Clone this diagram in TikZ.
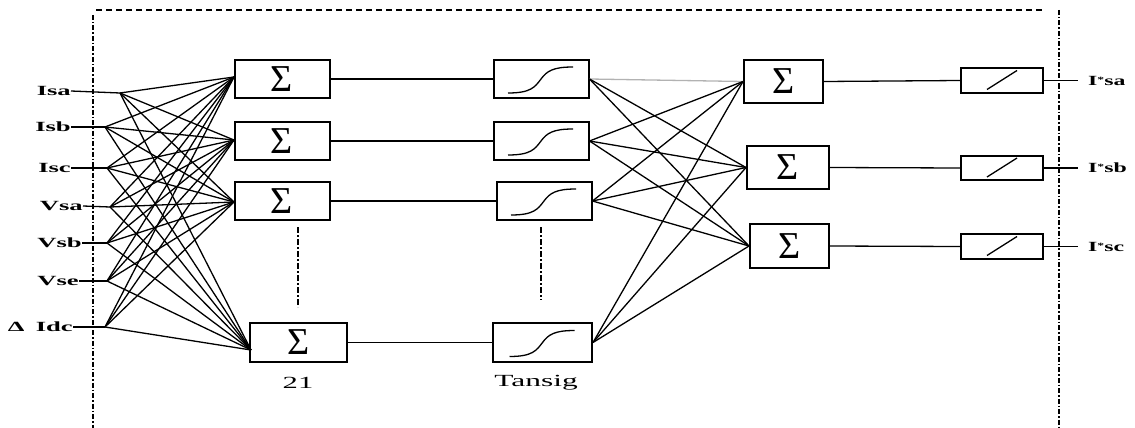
\documentclass[tikz,border=0pt]{standalone}
\usepackage{fontspec}
\usepackage{graphicx}
\setmainfont{Liberation Serif}
\usetikzlibrary{calc}
\newcommand\wide[2][1.9]{\scalebox{#1}[1]{#2}}
\newcommand\sig{Σ\hspace{16pt}}
\begin{document}
\begin{tikzpicture}[x=1pt,y=-1pt,
  blk/.style={draw,line width=2pt,minimum width=95pt,minimum height=38pt,inner sep=0pt},
  sig/.style={blk,font=\fontsize{38}{38}\selectfont},
  lin/.style={draw,line width=2pt,minimum width=82pt,minimum height=25pt,inner sep=0pt},
  conn/.style={line width=1.3pt},
  inlbl/.style={anchor=east,inner sep=0pt,font=\bfseries\fontsize{14}{14}\selectfont},
  outlbl/.style={anchor=west,inner sep=0pt,font=\bfseries\fontsize{14}{14}\selectfont},
  botlbl/.style={inner sep=0pt,font=\fontsize{17}{17}\selectfont},
  frame/.style={line width=1.6pt,dash pattern=on 6pt off 4pt},
  framedd/.style={line width=1.8pt,dash pattern=on 5pt off 2pt on 1.5pt off 2pt},
  elli/.style={line width=1.8pt,dash pattern=on 6pt off 2pt on 2pt off 2pt}
]
\useasboundingbox (0,0) rectangle (1135,428);
% frame
\coordinate (ft1) at (96,10);
\coordinate (ft2) at (1043,10);
\coordinate (fl1) at (93,15);
\coordinate (fl2) at (93,428);
\coordinate (fr1) at (1059,10);
\coordinate (fr2) at (1059,428);
\draw[frame] (ft1) -- (ft2);
\draw[framedd] (fl1) -- (fl2);
\draw[framedd] (fr1) -- (fr2);

% input labels
\node[inlbl] (l1) at (71,91) {\wide{Isa}};
\node[inlbl] (l2) at (71,127) {\wide{Isb}};
\node[inlbl] (l3) at (71,168) {\wide{Isc}};
\node[inlbl] (l4) at (83,206) {\wide{Vsa}};
\node[inlbl] (l5) at (82,243) {\wide{Vsb}};
\node[inlbl] (l6) at (79,281) {\wide{Vse}};
\node[inlbl] (l7) at (73,327) {\wide{Δ\hspace{6pt}Idc}};
% fan points
\coordinate (f1) at (120,93);
\coordinate (f2) at (105,127);
\coordinate (f3) at (107,168);
\coordinate (f4) at (110,207);
\coordinate (f5) at (107,243);
\coordinate (f6) at (107,281);
\coordinate (f7) at (105,327);
\foreach \i in {1,...,7} \draw[conn] (l\i.east) -- (f\i);

% hidden layer
\node[sig] (h1) at (282,79) {\sig};
\node[sig] (h2) at (282,141) {\sig};
\node[sig] (h3) at (282,201) {\sig};
\node[sig,minimum width=97pt,minimum height=39pt] (h4) at (298.5,342.5) {\sig};
\coordinate (c1) at (234,77);
\coordinate (c2) at (234,140);
\coordinate (c3) at (234,202);
\coordinate (c4) at (251,350);
\foreach \i in {1,...,7} \foreach \j in {1,...,4} \draw[conn] (f\i) -- (c\j);
\coordinate (e1a) at (298,227);
\coordinate (e1b) at (298,307);
\draw[elli] (e1a) -- (e1b);
\node[botlbl] (n21) at (298,383) {\wide[1.8]{21}};

% tansig layer
\newcommand\scurve[1]{\draw[line width=1.3pt] ($(#1)+(-33,14)$) .. controls ($(#1)+(-10,14)$) and ($(#1)+(-6,8)$) .. ($(#1)+(0,0)$) .. controls ($(#1)+(6,-8)$) and ($(#1)+(12,-12)$) .. ($(#1)+(32,-12)$);}
\node[blk] (t1) at (541,79) {};
\node[blk] (t2) at (541,141) {};
\node[blk] (t3) at (544,201) {};
\node[blk,minimum width=99pt,minimum height=39pt] (t4) at (542.5,342.5) {};
\foreach \k in {1,...,4} \scurve{t\k};
\coordinate (e2a) at (541,227);
\coordinate (e2b) at (541,300);
\draw[elli] (e2a) -- (e2b);
\node[botlbl] (ntan) at (536,383) {\wide[1.85]{Tansig}};

\draw[conn] (h1.east) -- (t1.west);
\draw[conn] (h2.east) -- (t2.west);
\draw[conn] (h3.east) -- ++(147,0) |- (t3.west);
\draw[conn] (h4.east) -- (t4.west);

% output sigma layer
\node[sig,minimum width=79pt,minimum height=43pt] (o1) at (783.5,81.5) {\sig};
\node[sig,minimum width=82pt,minimum height=43pt] (o2) at (788,167.5) {\sig};
\node[sig,minimum width=79pt,minimum height=44pt] (o3) at (789.5,246) {\sig};
\draw[conn,gray!60] (t1.east) -- (o1.west);
\draw[conn] (t1.east) -- (o2.west);
\draw[conn] (t1.east) -- (o3.west);
\foreach \k in {2,3,4} \foreach \m in {1,2,3} \draw[conn] (t\k.east) -- (o\m.west);

% purelin layer
\node[lin] (p1) at (1002,80.5) {};
\node[lin,minimum height=24pt] (p2) at (1002,168) {};
\node[lin] (p3) at (1002,246.5) {};
\foreach \k in {1,2,3} \draw[line width=1.3pt] ($(p\k)+(-15,9)$) -- ($(p\k)+(15,-10)$);
\foreach \k in {1,2,3} \draw[conn] (o\k.east) -- (p\k.west);

% outputs
\coordinate (q1) at (1078,80.5);
\coordinate (q2) at (1078,168);
\coordinate (q3) at (1078,246.5);
\foreach \k in {1,2,3} \draw[conn] (p\k.east) -- (q\k);
\node[outlbl] (r1) at (1088,80.5) {\wide[1.7]{I\raisebox{3pt}{\footnotesize*}sa}};
\node[outlbl] (r2) at (1088,168) {\wide[1.7]{I\raisebox{3pt}{\footnotesize*}sb}};
\node[outlbl] (r3) at (1088,246.5) {\wide[1.7]{I\raisebox{3pt}{\footnotesize*}sc}};
\end{tikzpicture}
\end{document}
